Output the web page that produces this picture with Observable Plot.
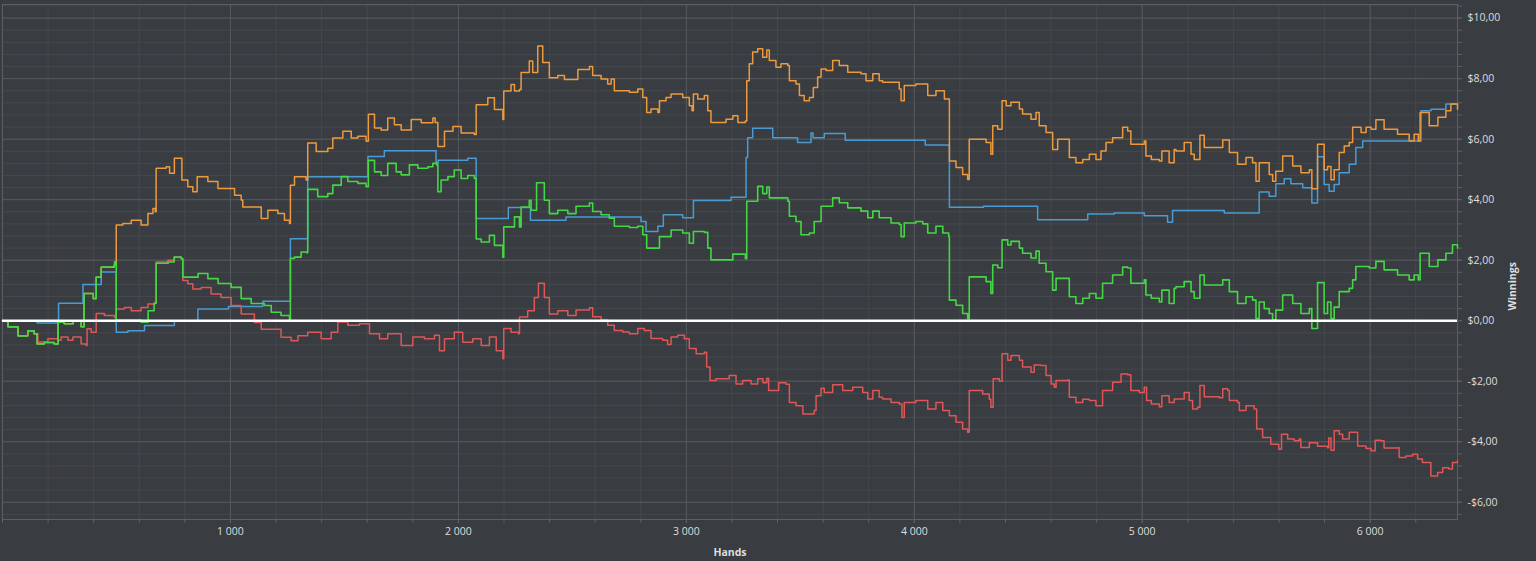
<!DOCTYPE html>
<html>
<head>
<meta charset="utf-8">
<script src="https://cdn.jsdelivr.net/npm/d3@7"></script>
<script src="https://cdn.jsdelivr.net/npm/@observablehq/plot@0.6"></script>
<style>
  html, body { margin: 0; padding: 0; background: #393c41; overflow: hidden; }
  #chart svg { display: block; }
</style>
</head>
<body>
<div id="chart"></div>
<script>
// ---- Data: [hands, winnings $] ----
const blue = [[0,0],[152,-0.08],[246,0.58],[353,1.2],[433,1.61],[499,-0.38],[550,-0.33],[623,-0.16],[754,0],[857,0.39],[991,0.47],[1142,0.64],[1263,2.71],[1339,4.76],[1603,5.43],[1675,5.62],[1902,5.2],[1911,5.3],[2041,5.37],[2078,3.38],[2219,3.74],[2316,3.32],[2472,3.43],[2801,3.28],[2823,2.95],[2875,3.12],[2899,3.5],[2984,3.4],[3031,3.97],[3196,4.08],[3262,5.39],[3269,6.05],[3291,6.36],[3379,6.05],[3488,5.89],[3547,6.2],[3556,6.05],[3605,6.19],[3697,5.96],[4048,5.81],[4154,3.75],[4304,3.78],[4541,3.34],[4761,3.53],[4877,3.56],[5009,3.47],[5111,3.25],[5133,3.64],[5360,3.56],[5513,4.25],[5557,4.11],[5586,4.53],[5623,4.69],[5652,4.53],[5704,4.39],[5744,3.89],[5769,5.42],[5798,4.5],[5820,4.28],[5842,4.5],[5864,4.89],[5908,5.17],[5937,5.72],[5967,5.94],[6223,6.94],[6267,6.99],[6332,7.16],[6383,7.16]];

const red = [[0,0],[24,-0.2],[68,-0.5],[111,-0.33],[139,-0.43],[155,-0.7],[199,-0.6],[243,-0.65],[257,-0.54],[287,-0.65],[309,-0.54],[345,-0.77],[367,-0.82],[371,-0.27],[389,-0.38],[411,0.24],[447,0.17],[491,0.11],[499,0.39],[535,0.44],[565,0.33],[608,0.44],[638,0.55],[667,0.6],[674,1.94],[725,2.0],[754,2.1],[784,2.05],[791,1.33],[813,1.22],[835,1.05],[872,1.1],[915,0.88],[959,0.77],[1003,0.5],[1047,0.22],[1105,-0.06],[1135,-0.28],[1179,-0.28],[1222,-0.55],[1266,-0.66],[1296,-0.5],[1339,-0.38],[1398,-0.6],[1442,-0.38],[1471,-0.04],[1515,-0.15],[1566,-0.1],[1610,-0.43],[1654,-0.6],[1690,-0.43],[1749,-0.82],[1800,-0.54],[1851,-0.6],[1895,-0.48],[1917,-0.99],[1939,-0.6],[1982,-0.38],[2019,-0.71],[2063,-0.6],[2100,-0.82],[2136,-0.54],[2166,-0.99],[2195,-1.26],[2199,-0.26],[2231,-0.38],[2263,-0.43],[2268,0.12],[2304,0.33],[2333,0.77],[2351,1.24],[2377,0.77],[2399,0.22],[2436,0.33],[2480,0.17],[2516,0.35],[2575,0.43],[2589,0.13],[2626,0.02],[2655,-0.15],[2684,-0.32],[2721,-0.37],[2750,-0.43],[2787,-0.26],[2816,-0.32],[2845,-0.59],[2896,-0.65],[2918,-0.79],[2933,-0.54],[2962,-0.48],[2991,-0.6],[3013,-0.92],[3043,-1.09],[3079,-1.04],[3089,-1.53],[3104,-1.98],[3130,-1.92],[3188,-1.81],[3218,-2.09],[3247,-1.98],[3284,-2.09],[3313,-1.92],[3336,-2.05],[3353,-1.9],[3361,-2.31],[3405,-2.05],[3437,-2.1],[3452,-2.7],[3481,-2.81],[3511,-3.08],[3561,-2.97],[3569,-2.48],[3591,-2.23],[3605,-2.37],[3642,-2.12],[3686,-2.31],[3730,-2.2],[3774,-2.37],[3796,-2.59],[3818,-2.31],[3846,-2.53],[3861,-2.59],[3898,-2.7],[3934,-2.75],[3946,-3.2],[3956,-2.7],[4007,-2.64],[4059,-2.92],[4095,-2.7],[4125,-2.97],[4154,-3.14],[4183,-3.36],[4212,-3.58],[4234,-3.69],[4241,-2.31],[4300,-2.42],[4329,-2.6],[4336,-2.86],[4346,-1.92],[4373,-2.0],[4385,-1.09],[4410,-1.31],[4424,-1.15],[4461,-1.31],[4475,-1.53],[4512,-1.7],[4526,-1.46],[4555,-1.48],[4578,-1.81],[4600,-2.09],[4614,-2.2],[4622,-1.98],[4673,-1.96],[4680,-2.53],[4709,-2.7],[4739,-2.6],[4768,-2.64],[4797,-2.81],[4826,-2.31],[4870,-2.03],[4907,-1.76],[4936,-1.79],[4950,-2.31],[4987,-2.37],[5009,-2.2],[5019,-2.64],[5040,-2.75],[5075,-2.84],[5086,-2.48],[5118,-2.7],[5140,-2.59],[5184,-2.37],[5206,-2.64],[5221,-2.92],[5243,-2.86],[5253,-2.14],[5272,-2.51],[5338,-2.55],[5353,-2.25],[5375,-2.31],[5382,-2.64],[5418,-2.7],[5426,-2.97],[5455,-2.81],[5491,-2.92],[5502,-3.58],[5528,-3.86],[5564,-4.08],[5599,-4.25],[5611,-3.75],[5638,-3.91],[5667,-3.97],[5689,-3.91],[5696,-4.19],[5733,-4.03],[5769,-4.15],[5813,-4.2],[5818,-3.88],[5828,-4.28],[5842,-3.64],[5864,-3.75],[5879,-3.91],[5908,-3.69],[5937,-3.69],[5945,-4.14],[5982,-4.22],[6004,-4.3],[6022,-3.95],[6047,-3.97],[6061,-4.21],[6120,-4.2],[6127,-4.52],[6157,-4.47],[6186,-4.41],[6208,-4.57],[6229,-4.69],[6257,-4.69],[6266,-5.13],[6296,-5.02],[6318,-4.86],[6345,-4.9],[6361,-4.69],[6383,-4.63]];

const orange = [[0,0],[24,-0.2],[68,-0.5],[111,-0.33],[139,-0.43],[152,-0.77],[183,-0.72],[227,-0.77],[244,-0.05],[271,-0.1],[310,0],[345,-0.2],[358,0.9],[398,0.73],[411,1.44],[433,1.77],[490,1.83],[492,1.94],[499,3.16],[528,3.21],[565,3.32],[608,3.16],[638,3.54],[660,3.71],[670,3.6],[674,5.04],[718,5.09],[733,4.87],[754,5.37],[784,5.37],[787,4.65],[813,4.43],[835,4.26],[854,4.76],[901,4.6],[945,4.37],[989,4.37],[1018,4.15],[1047,3.99],[1054,3.76],[1105,3.76],[1135,3.38],[1164,3.65],[1208,3.54],[1237,3.32],[1259,3.21],[1263,4.48],[1281,4.76],[1332,4.65],[1339,5.87],[1376,5.59],[1427,5.7],[1449,6.04],[1493,6.26],[1530,6.04],[1559,6.1],[1595,5.93],[1605,6.82],[1632,6.37],[1661,6.3],[1690,6.7],[1719,6.48],[1749,6.3],[1793,6.65],[1837,6.54],[1888,6.7],[1898,6.55],[1910,5.76],[1939,6.26],[1976,6.42],[2012,6.2],[2070,6.15],[2078,7.14],[2129,7.37],[2158,6.98],[2195,6.65],[2199,7.59],[2231,7.81],[2246,7.59],[2268,7.64],[2275,8.2],[2311,8.58],[2326,8.2],[2348,9.08],[2370,8.53],[2399,8.03],[2436,8.1],[2465,7.97],[2524,8.3],[2575,8.4],[2589,8.1],[2626,7.99],[2655,7.82],[2670,7.99],[2684,7.6],[2750,7.55],[2787,7.66],[2809,7.38],[2826,6.88],[2845,7.0],[2875,6.88],[2882,7.27],[2911,7.38],[2933,7.49],[2984,7.38],[3013,7.1],[3025,6.94],[3031,7.49],[3050,7.33],[3079,7.44],[3094,6.94],[3108,6.55],[3174,6.66],[3204,6.77],[3226,6.55],[3259,6.6],[3265,7.93],[3276,8.49],[3291,8.88],[3313,8.99],[3335,8.71],[3353,8.95],[3364,8.6],[3393,8.38],[3415,8.49],[3445,8.43],[3452,7.93],[3481,7.82],[3496,7.44],[3517,7.27],[3540,7.38],[3557,7.71],[3576,8.05],[3591,8.32],[3613,8.27],[3642,8.6],[3671,8.43],[3708,8.21],[3766,8.16],[3788,7.93],[3818,8.16],[3846,7.93],[3861,7.88],[3934,7.66],[3942,7.27],[3956,7.77],[4007,7.82],[4059,7.44],[4095,7.6],[4132,7.33],[4151,7.33],[4154,5.28],[4183,5.06],[4212,4.83],[4234,4.67],[4241,6.0],[4315,5.89],[4336,5.5],[4344,6.44],[4366,6.33],[4385,7.27],[4403,7.1],[4424,7.22],[4461,7.0],[4475,6.83],[4512,6.66],[4534,6.88],[4548,6.44],[4578,6.22],[4607,5.66],[4629,6.0],[4665,6.0],[4680,5.39],[4709,5.22],[4739,5.33],[4768,5.5],[4797,5.33],[4819,5.61],[4841,5.89],[4870,6.05],[4914,6.39],[4936,6.27],[4950,5.83],[5009,5.94],[5016,5.44],[5040,5.33],[5075,5.28],[5086,5.61],[5118,5.22],[5140,5.66],[5148,5.61],[5184,5.89],[5214,5.5],[5228,5.33],[5253,6.13],[5272,5.72],[5353,5.97],[5382,5.56],[5418,5.17],[5455,5.39],[5484,5.22],[5499,4.61],[5513,5.22],[5557,4.83],[5572,4.61],[5586,4.94],[5616,5.44],[5660,5.11],[5696,4.89],[5733,4.99],[5744,4.36],[5769,5.83],[5798,4.99],[5813,5.1],[5828,4.66],[5842,4.99],[5864,5.56],[5886,5.77],[5908,5.89],[5923,6.39],[5960,6.22],[5982,6.39],[6004,6.33],[6025,6.64],[6061,6.33],[6120,6.16],[6171,5.94],[6193,6.16],[6211,5.94],[6219,6.88],[6259,6.44],[6297,6.72],[6332,6.94],[6354,7.16],[6383,6.99]];

const green = [[0,0],[24,-0.2],[68,-0.5],[111,-0.33],[139,-0.43],[152,-0.77],[183,-0.72],[227,-0.77],[244,-0.05],[271,-0.1],[310,0],[345,-0.2],[358,0.9],[398,0.73],[411,1.44],[433,1.77],[490,1.83],[492,1.94],[499,0.02],[608,-0.05],[639,0.33],[665,0.57],[674,1.9],[727,1.94],[753,2.1],[784,2.05],[791,1.44],[858,1.56],[901,1.39],[946,1.23],[1003,1.1],[1047,0.73],[1091,0.57],[1149,0.5],[1179,0.28],[1222,0.17],[1259,0],[1263,2.06],[1281,2.1],[1310,2.27],[1334,2.25],[1339,4.34],[1383,4.1],[1427,4.2],[1449,4.48],[1486,4.76],[1515,4.6],[1559,4.54],[1595,4.43],[1605,5.3],[1632,4.92],[1661,4.8],[1690,5.2],[1727,4.92],[1749,4.82],[1785,5.15],[1822,5.04],[1866,5.09],[1888,5.2],[1905,5.15],[1910,4.26],[1924,4.65],[1954,4.76],[1982,4.98],[2012,4.7],[2041,4.8],[2070,4.7],[2078,2.7],[2100,2.6],[2136,2.82],[2158,2.49],[2195,2.1],[2199,3.1],[2231,3.1],[2246,3.43],[2268,3.1],[2275,3.76],[2311,3.98],[2319,3.65],[2343,4.56],[2377,3.98],[2399,3.54],[2436,3.65],[2480,3.54],[2516,3.78],[2575,3.89],[2589,3.61],[2626,3.5],[2662,3.39],[2684,3.12],[2750,3.08],[2787,3.12],[2809,2.84],[2826,2.4],[2875,2.4],[2882,2.78],[2933,3.0],[2984,2.9],[3013,2.56],[3031,2.95],[3079,2.92],[3094,2.4],[3108,2.01],[3204,2.2],[3259,2.05],[3265,3.95],[3313,4.44],[3335,4.2],[3353,4.42],[3364,4.06],[3445,3.95],[3452,3.45],[3481,3.28],[3503,2.84],[3540,2.9],[3561,3.28],[3591,3.78],[3642,4.06],[3671,3.9],[3708,3.73],[3766,3.62],[3796,3.4],[3818,3.62],[3846,3.4],[3898,3.23],[3934,3.18],[3942,2.78],[3956,3.23],[4007,3.28],[4037,3.2],[4059,2.9],[4095,3.12],[4125,2.9],[4151,2.78],[4154,0.68],[4183,0.51],[4212,0.24],[4234,0.07],[4241,1.45],[4315,1.29],[4336,0.9],[4344,1.84],[4366,1.75],[4385,2.67],[4410,2.5],[4424,2.62],[4461,2.4],[4475,2.23],[4512,2.07],[4534,2.3],[4548,1.9],[4578,1.62],[4607,1.01],[4622,1.4],[4665,1.4],[4680,0.79],[4709,0.57],[4739,0.74],[4768,0.9],[4797,0.74],[4826,1.24],[4870,1.51],[4914,1.77],[4936,1.74],[4950,1.24],[5009,1.35],[5016,0.85],[5040,0.74],[5075,0.62],[5086,1.01],[5118,0.57],[5140,1.07],[5148,1.12],[5184,1.29],[5214,0.96],[5228,0.74],[5253,1.51],[5272,1.18],[5353,1.35],[5382,0.96],[5418,0.57],[5455,0.79],[5484,0.68],[5499,0.07],[5513,0.62],[5535,0.4],[5557,0.24],[5572,0.02],[5586,0.35],[5616,0.85],[5660,0.57],[5696,0.24],[5733,0.4],[5744,-0.26],[5766,-0.26],[5769,1.26],[5798,0.24],[5813,0.62],[5828,0.07],[5842,0.45],[5864,0.96],[5908,1.07],[5923,1.35],[5937,1.79],[5996,1.74],[6025,1.96],[6061,1.68],[6120,1.51],[6171,1.35],[6193,1.51],[6211,1.35],[6219,2.23],[6259,1.79],[6297,2.01],[6332,2.23],[6361,2.51],[6383,2.4]];

// ---- Axes ----
const xTickLabels = [1000, 2000, 3000, 4000, 5000, 6000];
const yTickLabels = [-6, -4, -2, 0, 2, 4, 6, 8, 10];
const xDomain = [0, 6383];
const yDomain = [-6.57, 10.45];

const xMinor = d3.range(0, 6400, 200);
const yMinor = d3.range(-16, 27).map(i => +(i * 0.4).toFixed(2));

const fmtMoney = d => (d < 0 ? "-" : "") + "$" + Math.abs(d).toFixed(2).replace(".", ",");
const fmtHands = d => String(d).replace(/\B(?=(\d{3})+(?!\d))/g, " ");

const toRows = arr => arr.map(([h, v]) => ({h, v}));

const gridMinor = "#45484d";
const gridMajor = "#56595e";
const frameCol = "#5c5f64";
const textCol = "#dedede";

const chart = Plot.plot({
  width: 1536,
  height: 561,
  marginLeft: 2,
  marginRight: 79,
  marginTop: 4,
  marginBottom: 42,
  x: {domain: xDomain},
  y: {domain: yDomain},
  style: {
    background: "#393c41",
    color: textCol,
    fontFamily: "'Open Sans', 'Noto Sans', sans-serif",
    fontSize: "10.5px",
    overflow: "visible"
  },
  marks: [
    Plot.ruleX(xMinor, {stroke: gridMinor, strokeWidth: 1}),
    Plot.ruleY(yMinor, {stroke: gridMinor, strokeWidth: 1}),
    Plot.ruleX(xTickLabels, {stroke: gridMajor, strokeWidth: 1}),
    Plot.ruleY(yTickLabels, {stroke: gridMajor, strokeWidth: 1}),
    Plot.frame({stroke: frameCol}),
    Plot.axisX({ticks: xMinor, tickSize: 4, stroke: frameCol, fill: "none", label: null}),
    Plot.axisX({ticks: xTickLabels, tickSize: 4, tickPadding: 4, tickFormat: fmtHands, stroke: frameCol, fill: textCol, label: null}),
    Plot.axisY({anchor: "right", ticks: yMinor, tickSize: 4, stroke: frameCol, fill: "none", label: null}),
    Plot.axisY({anchor: "right", ticks: yTickLabels, tickSize: 4, tickPadding: 6, tickFormat: fmtMoney, stroke: frameCol, fill: textCol, label: null}),
    Plot.line(toRows(blue), {x: "h", y: "v", stroke: "#4a9bd4", strokeWidth: 1.5, curve: "step-after"}),
    Plot.line(toRows(red), {x: "h", y: "v", stroke: "#e05656", strokeWidth: 1.5, curve: "step-after"}),
    Plot.line(toRows(orange), {x: "h", y: "v", stroke: "#ee9a3c", strokeWidth: 1.5, curve: "step-after"}),
    Plot.line(toRows(green), {x: "h", y: "v", stroke: "#43d843", strokeWidth: 1.6, curve: "step-after"}),
    Plot.ruleY([0], {stroke: "#ffffff", strokeWidth: 2.5}),
    Plot.text(["Hands"], {frameAnchor: "bottom", dy: 36, fill: textCol, fontWeight: "bold", fontSize: 10.5}),
    Plot.text(["Winnings"], {frameAnchor: "right", dx: 55, rotate: -90, fill: textCol, fontWeight: "bold", fontSize: 10.5})
  ]
});

document.getElementById("chart").appendChild(chart);
</script>
</body>
</html>
